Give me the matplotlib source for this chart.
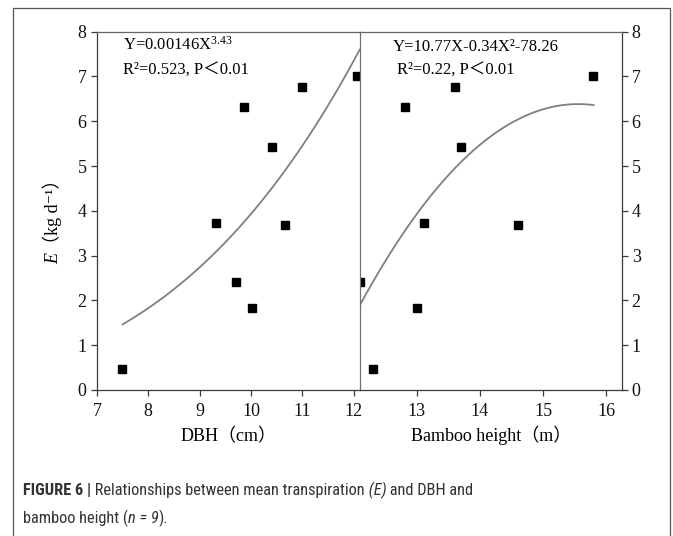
import numpy as np
import matplotlib
matplotlib.use("Agg")
import matplotlib.pyplot as plt
from matplotlib.transforms import IdentityTransform
from matplotlib.patches import Rectangle

# ---------------- data ----------------
dbh = [7.48, 9.31, 9.70, 10.03, 10.66, 9.87, 10.41, 10.99, 12.07]
e_dbh = [0.47, 3.73, 2.42, 1.82, 3.68, 6.31, 5.43, 6.77, 7.01]
height = [12.10, 12.31, 13.00, 13.11, 14.60, 12.81, 13.60, 13.70, 15.79]
e_height = [2.42, 0.47, 1.82, 3.73, 3.68, 6.31, 6.77, 5.43, 7.01]

# power fit shown on the chart: Y = a * X^b
pow_a, pow_b = 0.00146, 3.43
pow_range = (7.5, 12.12)
# quadratic fit as drawn: Y = q0 + q1 X + q2 X^2
quad_q = (-84.73, 11.714, -0.3765)
quad_range = (12.1, 15.8)

left_xticks = [7, 8, 9, 10, 11, 12]
right_xticks = [13, 14, 15, 16]
yticks = [0, 1, 2, 3, 4, 5, 6, 7, 8]

eq_left = "Y=0.00146X$^{3.43}$"
r2_left = "R²=0.523, P＜0.01"
eq_right = "Y=10.77X-0.34X²-78.26"
r2_right = "R²=0.22, P＜0.01"

# ---------------- style ----------------
plt.rcParams['mathtext.fontset'] = 'custom'
plt.rcParams['mathtext.rm'] = 'Liberation Serif'
plt.rcParams['mathtext.it'] = 'Liberation Serif:italic'
SERIF = ['Liberation Serif', 'Noto Sans CJK SC', 'DejaVu Serif']
SANS = ['Roboto Condensed', 'Archivo Narrow', 'Liberation Sans', 'DejaVu Sans']
SANS_B = ['Roboto Condensed', 'Asap Condensed', 'Barlow Condensed', 'Liberation Sans']
plt.rcParams['font.family'] = SERIF

W, H = 673, 536
fig = plt.figure(figsize=(W / 100, H / 100), dpi=100)

# outer frame
fig.patches.append(Rectangle((13 / W, -0.02), (670 - 13) / W, 1.02 - 8 / H,
                             transform=fig.transFigure, fill=False,
                             edgecolor='#555555', linewidth=0.9))

xl0, xm, xr1 = 97 / W, 359.7 / W, 622 / W
yb, yt = 1 - 390 / H, 1 - 31.7 / H
ax1 = fig.add_axes([xl0, yb, xm - xl0, yt - yb])
ax2 = fig.add_axes([xm, yb, xr1 - xm, yt - yb])
ax_h = 390 - 31.7

spine_c = '#3a3a3a'
tick_kw = dict(direction='out', length=4.5, width=0.9, colors=spine_c,
               labelsize=13, labelcolor='#111111')

# left panel
ax1.set_xlim(7, 12.12)
ax1.set_ylim(0, 8)
ax1.set_xticks(left_xticks)
ax1.set_yticks(yticks)
ax1.tick_params(axis='both', **tick_kw)
ax1.tick_params(axis='x', pad=4.5)
ax1.tick_params(axis='y', pad=3)
ax1.spines['right'].set_visible(False)
for s in ['left', 'bottom', 'top']:
    ax1.spines[s].set_color(spine_c)
    ax1.spines[s].set_linewidth(0.9)
ax1.spines['top'].set_color('#666666')

xs = np.linspace(pow_range[0], pow_range[1], 200)
ax1.plot(xs, pow_a * xs ** pow_b, color='#808080', lw=1.3)
ax1.plot(dbh, e_dbh, 's', color='black', ms=6.2, mec='black')

ax1.text(7.51, 7.70, eq_left, fontsize=12, va='center', ha='left')
ax1.text(7.51, 7.12, r2_left, fontsize=12, va='center', ha='left')

# right panel
ax2.set_xlim(12.1, 16.25)
ax2.set_ylim(0, 8)
ax2.set_xticks(right_xticks)
ax2.set_yticks(yticks)
ax2.yaxis.tick_right()
ax2.tick_params(axis='both', **tick_kw)
ax2.tick_params(axis='x', pad=4.5)
ax2.tick_params(axis='y', pad=2.5)
ax2.spines['left'].set_color('#707070')
ax2.spines['left'].set_linewidth(0.9)
for s in ['right', 'bottom']:
    ax2.spines[s].set_color(spine_c)
    ax2.spines[s].set_linewidth(0.9)
ax2.spines['top'].set_color('#666666')
ax2.spines['top'].set_linewidth(0.9)

xq = np.linspace(quad_range[0], quad_range[1], 200)
ax2.plot(xq, quad_q[0] + quad_q[1] * xq + quad_q[2] * xq ** 2, color='#808080', lw=1.3)
ax2.plot(height, e_height, 's', color='black', ms=6.2, mec='black')

ax2.text(12.63, 7.66, eq_right, fontsize=12, va='center', ha='left')
ax2.text(12.69, 7.12, r2_right, fontsize=12, va='center', ha='left')

for ax, lab in [(ax1, "DBH（cm）"), (ax2, "Bamboo height（m）")]:
    ax.set_xlabel(lab, fontsize=13)
    ax.xaxis.label.set_va('baseline')
    ax.xaxis.set_label_coords(0.5, -(441 - 390) / ax_h)

renderer = fig.canvas.get_renderer()

# y label: italic E + unit, rotated
t = fig.text(58, H - 264, "E", transform=IdentityTransform(), rotation=90,
             rotation_mode='anchor', ha='left', va='baseline', fontsize=13,
             style='italic', family=SERIF)
ext = t.get_window_extent(renderer)
fig.text(58, ext.y1, "（kg d⁻¹）", transform=IdentityTransform(), rotation=90,
         rotation_mode='anchor', ha='left', va='baseline', fontsize=13, family=SERIF)

# caption
def chain(pieces, x, y):
    for s, kw in pieces:
        fam = SANS_B if kw.get('weight') == 'bold' else SANS
        tt = fig.text(x, y, s, transform=IdentityTransform(), ha='left', va='baseline',
                      fontsize=11.8, color='#333333', family=fam, **kw)
        x = tt.get_window_extent(renderer).x1

chain([("FIGURE 6 |", dict(weight='bold')),
       (" Relationships between mean transpiration", {}),
       (" (E)", dict(style='italic')),
       (" and DBH and", {})], 23, H - 495)
chain([("bamboo height (", {}),
       ("n = 9", dict(style='italic')),
       (").", {})], 23, H - 523)

fig.savefig("out.png", dpi=100)
